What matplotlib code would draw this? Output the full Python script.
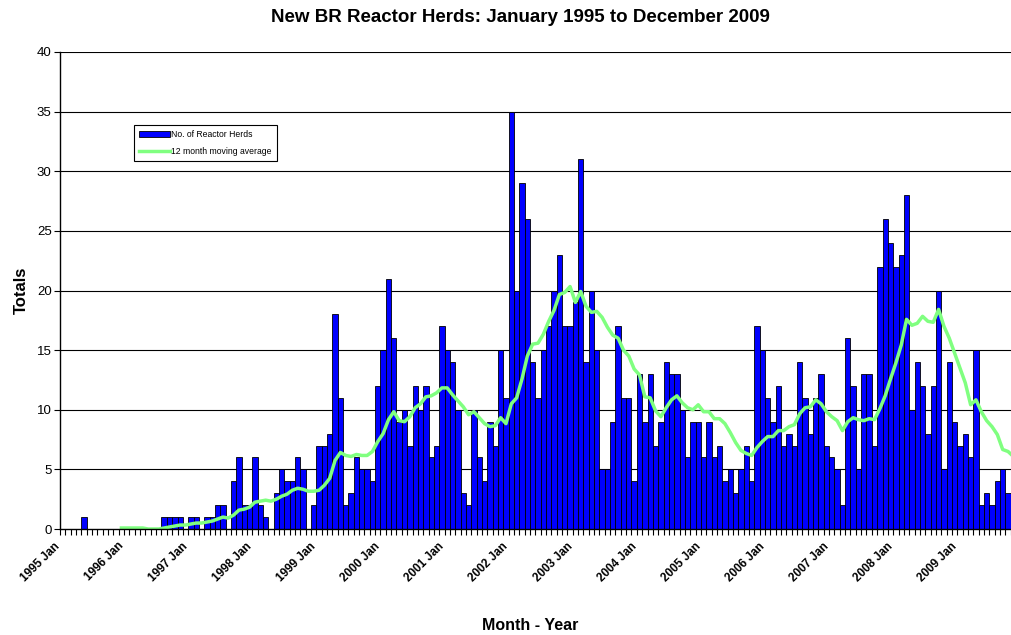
import numpy as np
import pandas as pd
import matplotlib
matplotlib.use("Agg")
import matplotlib.pyplot as plt
from matplotlib.ticker import FixedLocator, NullFormatter
from matplotlib.transforms import ScaledTranslation

plt.rcParams['font.family'] = ['Liberation Sans', 'DejaVu Sans']

# Monthly new BR reactor herds, Jan 1995 onward (values read from the chart;
# the last month, Dec 2009, lies outside the visible picture)
years = list(range(1995, 2010))
herds_1995 = [0, 0, 0, 0, 1, 0, 0, 0, 0, 0, 0, 0]
herds_1996 = [0, 0, 0, 0, 0, 0, 0, 1, 1, 1, 1, 0]
herds_1997 = [1, 1, 0, 1, 1, 2, 2, 0, 4, 6, 2, 2]
herds_1998 = [6, 2, 1, 0, 3, 5, 4, 4, 6, 5, 0, 2]
herds_1999 = [7, 7, 8, 18, 11, 2, 3, 6, 5, 5, 4, 12]
herds_2000 = [15, 21, 16, 9, 10, 7, 12, 10, 12, 6, 7, 17]
herds_2001 = [15, 14, 10, 3, 2, 10, 6, 4, 9, 7, 15, 11]
herds_2002 = [35, 20, 29, 26, 14, 11, 15, 17, 20, 23, 17, 17]
herds_2003 = [19, 31, 14, 20, 15, 5, 5, 9, 17, 11, 11, 4]
herds_2004 = [13, 9, 13, 7, 9, 14, 13, 13, 10, 6, 9, 9]
herds_2005 = [6, 9, 6, 7, 4, 5, 3, 5, 7, 4, 17, 15]
herds_2006 = [11, 9, 12, 7, 8, 7, 14, 11, 8, 11, 13, 7]
herds_2007 = [6, 5, 2, 16, 12, 5, 13, 13, 7, 22, 26, 24]
herds_2008 = [22, 23, 28, 10, 14, 12, 8, 12, 20, 5, 14, 9]
herds_2009 = [7, 8, 6, 15, 2, 3, 2, 4, 5, 3, 9]

herds = (herds_1995 + herds_1996 + herds_1997 + herds_1998 + herds_1999 +
         herds_2000 + herds_2001 + herds_2002 + herds_2003 + herds_2004 +
         herds_2005 + herds_2006 + herds_2007 + herds_2008 + herds_2009)
n_months = 180  # Jan 1995 .. Dec 2009
tick_labels = [f"{y} Jan" for y in years]

W, H = 1011, 635
fig = plt.figure(figsize=(W / 100, H / 100), dpi=100)
slot_px = 5.341
ax_left, ax_bottom, ax_top = 60, 529, 52
ax = fig.add_axes([ax_left / W, (H - ax_bottom) / H,
                   n_months * slot_px / W, (ax_bottom - ax_top) / H])

x = np.arange(len(herds)) + 0.5
bars = ax.bar(x, herds, width=1.0, color='#0000FF', edgecolor='black',
              linewidth=0.6, zorder=3, label='No. of Reactor Herds')

ma = pd.Series(herds, dtype=float).rolling(12).mean()
line, = ax.plot(x, ma.values, color='#80FF80', linewidth=2.5, zorder=4,
                label='12 month moving average', solid_joinstyle='round')

ax.set_xlim(0, n_months)
ax.set_ylim(0, 40)
ax.set_yticks(np.arange(0, 41, 5))
for v in range(5, 41, 5):
    ax.axhline(v, color='black', linewidth=0.8, zorder=1)

for side in ['top', 'right']:
    ax.spines[side].set_visible(False)
ax.spines['left'].set_linewidth(1.0)
ax.spines['bottom'].set_linewidth(1.0)
ax.spines['left'].set_zorder(5)
ax.spines['bottom'].set_zorder(5)

ax.tick_params(axis='y', direction='out', length=4, width=0.8, labelsize=9.5, pad=2)
# month boundary ticks
ax.xaxis.set_minor_locator(FixedLocator(np.arange(0, n_months + 1, 1)))
ax.xaxis.set_minor_formatter(NullFormatter())
ax.tick_params(axis='x', which='minor', direction='out', length=4, width=0.8)
# January labels at category centres
ax.set_xticks(np.arange(0, n_months, 12) + 0.5)
ax.set_xticklabels(tick_labels, rotation=45, ha='right', va='top',
                   rotation_mode='anchor', fontsize=8.5, fontweight='bold')
ax.tick_params(axis='x', which='major', length=0, pad=8)
shift = ScaledTranslation(-9 / 100, 0, fig.dpi_scale_trans)
for lbl in ax.get_xticklabels():
    lbl.set_transform(lbl.get_transform() + shift)

ax.set_ylabel('Totals', fontsize=12, fontweight='bold', labelpad=6)
fig.text(530 / W, 1 - 625 / H, 'Month - Year', ha='center', va='center',
         fontsize=11.5, fontweight='bold')
fig.text(520 / W, 1 - 18 / H, 'New BR Reactor Herds: January 1995 to December 2009',
         ha='center', va='center', fontsize=13.5, fontweight='bold')

leg = ax.legend(handles=[bars, line], loc='upper left',
                bbox_to_anchor=(134 / W, 1 - 125 / H), bbox_transform=fig.transFigure,
                fontsize=6.2, frameon=True, fancybox=False, framealpha=1,
                edgecolor='black', handlelength=3.6, handleheight=0.6,
                borderpad=0.6, labelspacing=0.9, handletextpad=0.1,
                borderaxespad=0)
leg.get_frame().set_linewidth(0.8)
leg.set_zorder(6)

fig.savefig('out.png', dpi=100)
